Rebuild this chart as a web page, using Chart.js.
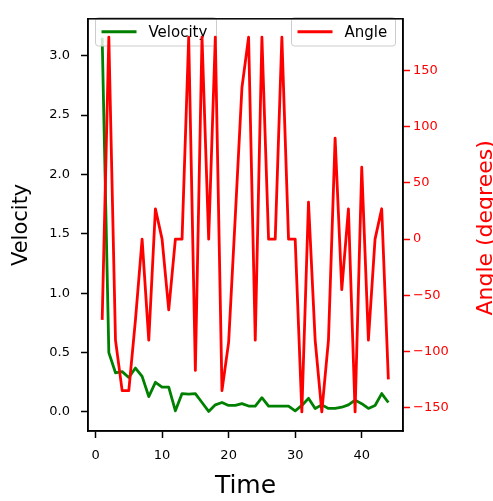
<!DOCTYPE html>
<html>
<head>
<meta charset="utf-8">
<script src="https://cdn.jsdelivr.net/npm/chart.js@4"></script>
<style>
  html, body { margin: 0; padding: 0; background: #fff; }
</style>
</head>
<body>
<canvas id="chart" width="493" height="501"></canvas>
<script>
var times = [1, 2, 3, 4, 5, 6, 7, 8, 9, 10, 11, 12, 13, 14, 15, 16, 17, 18, 19, 20, 21, 22,
             23, 24, 25, 26, 27, 28, 29, 30, 31, 32, 33, 34, 35, 36, 37, 38, 39, 40, 41, 42, 43, 44];
var velocity = [3.15, 0.50, 0.33, 0.34, 0.29, 0.37, 0.30, 0.13, 0.25, 0.21, 0.21, 0.01, 0.155, 0.15, 0.155,
                0.08, 0.005, 0.06, 0.08, 0.055, 0.055, 0.07, 0.05, 0.05, 0.12, 0.05, 0.05, 0.05, 0.05, 0.01,
                0.055, 0.115, 0.03, 0.06, 0.03, 0.03, 0.04, 0.06, 0.10, 0.07, 0.03, 0.055, 0.155, 0.08];
var angle = [-72, 180, -90, -135, -135, -72, 0, -90, 27, 0, -63, 0, 0, 180, -117,
             180, 0, 180, -135, -92, 20, 135, 180, -90, 180, 0, 0, 180, 0, 0,
             -154, 33, -90, -154, -90, 90, -45, 27, -154, 64, -90, 0, 27, -125];
var timeTicks = [0, 10, 20, 30, 40];
var velocityTicks = [0, 0.5, 1, 1.5, 2, 2.5, 3];
var angleTicks = [-150, -100, -50, 0, 50, 100, 150];

Chart.defaults.font.family = '"DejaVu Sans", sans-serif';
Chart.defaults.color = '#000';

function pts(ys) {
    return times.map((t, i) => ({ x: t, y: ys[i] }));
}

// matplotlib-like legend box
function legendBox(ctx, x, y, w, h, color, label) {
    ctx.save();
    ctx.beginPath();
    ctx.roundRect(x, y, w, h, 3);
    ctx.fillStyle = 'rgba(255,255,255,0.8)';
    ctx.fill();
    ctx.strokeStyle = '#cccccc';
    ctx.lineWidth = 1;
    ctx.stroke();
    ctx.beginPath();
    ctx.moveTo(x + 6, y + h / 2);
    ctx.lineTo(x + 41, y + h / 2);
    ctx.strokeStyle = color;
    ctx.lineWidth = 2.8;
    ctx.stroke();
    ctx.fillStyle = '#000';
    ctx.font = '15px "DejaVu Sans"';
    ctx.textBaseline = 'middle';
    ctx.fillText(label, x + 53, y + h / 2 + 1);
    ctx.restore();
}

var extras = {
    id: 'extras',
    afterDatasetDraw(chart, args) {
        // velocity legend sits under the angle line (twin axes order)
        if (args.index === 0) {
            legendBox(chart.ctx, 95.5, 17.5, 121, 28.5, 'green', 'Velocity');
        }
    },
    afterDatasetsDraw(chart) {
        var ctx = chart.ctx;
        var a = chart.chartArea;
        legendBox(ctx, 291.5, 17.5, 104, 28.5, 'red', 'Angle');
        ctx.save();
        ctx.strokeStyle = '#000';
        ctx.lineWidth = 1.5;
        ctx.strokeRect(a.left, a.top, a.right - a.left, a.bottom - a.top);
        ctx.translate(486, (a.top + a.bottom) / 2 + 3);
        ctx.rotate(-Math.PI / 2);
        ctx.fillStyle = 'red';
        ctx.font = '22px "DejaVu Sans"';
        ctx.textAlign = 'center';
        ctx.textBaseline = 'middle';
        ctx.fillText('Angle (degrees)', 0, 0);
        ctx.restore();
    }
};

new Chart(document.getElementById('chart'), {
    type: 'line',
    data: {
        datasets: [{
            label: 'Velocity',
            data: pts(velocity),
            yAxisID: 'y',
            borderColor: 'green',
            borderWidth: 2.8,
            pointRadius: 0,
            tension: 0,
            borderJoinStyle: 'round',
            order: 1
        }, {
            label: 'Angle',
            data: pts(angle),
            yAxisID: 'y2',
            borderColor: 'red',
            borderWidth: 2.8,
            pointRadius: 0,
            tension: 0,
            borderJoinStyle: 'round',
            order: 0
        }]
    },
    options: {
        responsive: false,
        animation: false,
        devicePixelRatio: 1,
        layout: { padding: { top: 10 } },
        plugins: { legend: { display: false }, tooltip: { enabled: false } },
        scales: {
            x: {
                type: 'linear',
                min: -1.13,
                max: 46.2,
                afterFit: s => { s.height = 70; },
                afterBuildTicks: s => { s.ticks = timeTicks.map(v => ({ value: v })); },
                grid: { drawOnChartArea: false, drawTicks: true, tickLength: 7, tickWidth: 1.5, tickColor: '#000' },
                border: { color: '#000', width: 1.5 },
                ticks: { autoSkip: false, maxRotation: 0, padding: 10, font: { size: 13 }, color: '#000',
                         callback: v => String(v) },
                title: { display: true, text: 'Time', font: { size: 25 }, color: '#000', padding: { top: 0, bottom: 0 } }
            },
            y: {
                position: 'left',
                min: -0.16,
                max: 3.31,
                afterFit: s => { s.width = 88; },
                afterBuildTicks: s => { s.ticks = velocityTicks.map(v => ({ value: v })); },
                grid: { drawOnChartArea: false, drawTicks: true, tickLength: 7, tickWidth: 1.5, tickColor: '#000' },
                border: { color: '#000', width: 1.5 },
                ticks: { autoSkip: false, padding: 11, font: { size: 13 }, color: '#000',
                         callback: v => v.toFixed(1) },
                title: { display: true, text: 'Velocity', font: { size: 21 }, color: '#000', padding: { top: 9, bottom: 0 } }
            },
            y2: {
                position: 'right',
                min: -171,
                max: 196.3,
                afterFit: s => { s.width = 90; },
                afterBuildTicks: s => { s.ticks = angleTicks.map(v => ({ value: v })); },
                grid: { drawOnChartArea: false, drawTicks: true, tickLength: 7, tickWidth: 1.5, tickColor: 'red' },
                border: { color: '#000', width: 1.5 },
                ticks: { autoSkip: false, padding: 3, font: { size: 13 }, color: 'red',
                         callback: v => v < 0 ? '\u2212' + Math.abs(v) : String(v) }
            }
        }
    },
    plugins: [extras]
});
</script>
</body>
</html>
